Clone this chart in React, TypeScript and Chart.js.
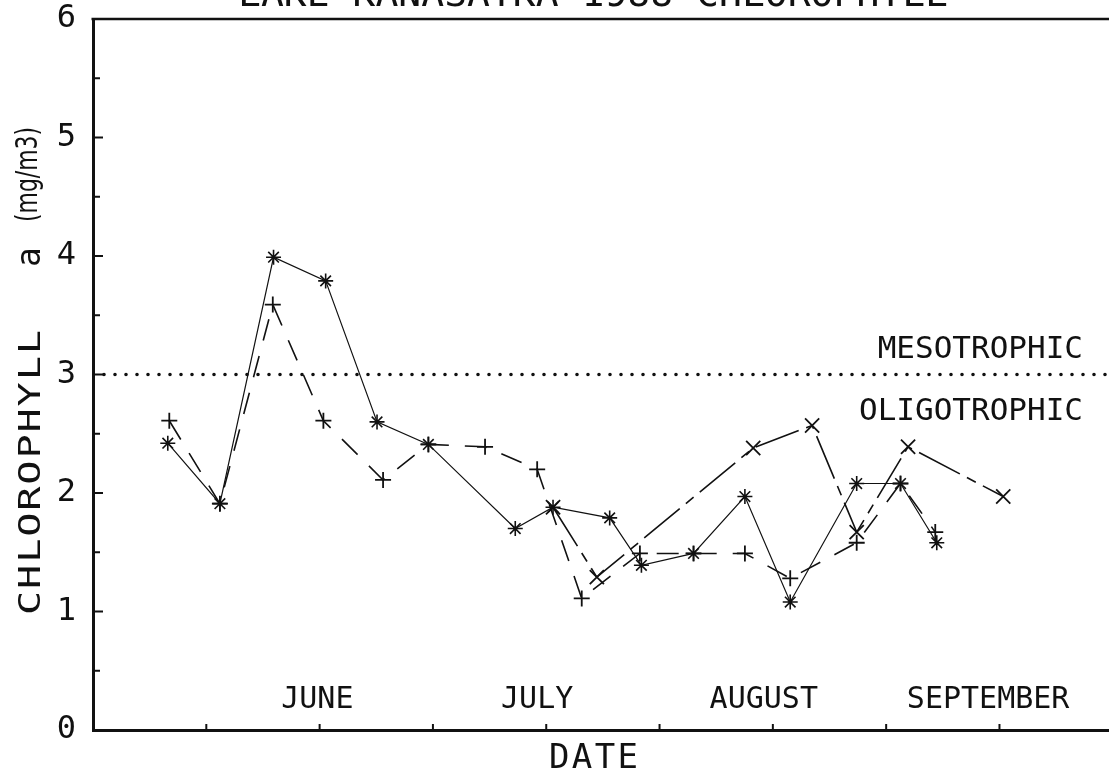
import React, { useEffect, useRef } from 'react';
import { Chart, registerables } from 'chart.js';

Chart.register(...registerables);

// ---------------- data ----------------
const titleText = 'LAKE KANASATKA 1988 CHLOROPHYLL';
const yAxisTitle = ['CHLOROPHYLL', 'a', '(mg/m3)'];
const xAxisTitle = 'DATE';

const months = ['JUNE', 'JULY', 'AUGUST', 'SEPTEMBER'];
const monthLabelDays = [29.7, 58.8, 88.8, 118.5];
const xTickDays = [15, 30, 45, 60, 75, 90, 105, 120];
const yTickValues = [0, 0.5, 1, 1.5, 2, 2.5, 3, 3.5, 4, 4.5, 5, 5.5, 6];

const thresholdValue = 3;
const zoneLabels = ['MESOTROPHIC', 'OLIGOTROPHIC'];

// series 1: solid line, asterisk markers
const solidDays = [9.9, 16.8, 23.9, 30.8, 37.6, 44.4, 55.9, 60.9, 68.4, 72.6, 79.5, 86.3, 92.3, 101.1, 106.9, 111.7];
const solidValues = [2.42, 1.91, 3.99, 3.79, 2.6, 2.41, 1.7, 1.88, 1.79, 1.39, 1.49, 1.97, 1.08, 2.08, 2.08, 1.58];

// series 2: long dashes, plus markers
const plusDays = [10.1, 16.8, 23.8, 30.5, 38.4, 44.4, 51.9, 58.8, 64.7, 72.4, 79.5, 86.3, 92.3, 101.1, 106.9, 111.5];
const plusValues = [2.61, 1.91, 3.59, 2.61, 2.11, 2.41, 2.39, 2.2, 1.11, 1.49, 1.49, 1.49, 1.28, 1.58, 2.08, 1.67];

// series 3: dash-dot, x markers
const crossDays = [60.9, 66.7, 87.4, 95.2, 101.1, 107.9, 120.5];
const crossValues = [1.88, 1.29, 2.38, 2.57, 1.67, 2.39, 1.97];

const X_MIN = 0;
const X_MAX = 134.5;
const Y_MIN = 0;
const Y_MAX = 6;

// ---------------- styling helpers ----------------
const MONO = '"DejaVu Sans Mono", monospace';
const SANS = '"DejaVu Sans", sans-serif';
const INK = '#111';

function toPoints(days: number[], vals: number[]) {
  return days.map((d, i) => ({ x: d, y: vals[i] }));
}

function drawSpaced(ctx: CanvasRenderingContext2D, text: string, x0: number, y: number, width: number) {
  ctx.textAlign = 'left';
  const w = ctx.measureText(text).width;
  if (width <= w || text.length < 2) {
    ctx.fillText(text, x0, y, width);
    return;
  }
  const extra = (width - w) / (text.length - 1);
  let x = x0;
  for (const ch of text) {
    ctx.fillText(ch, x, y);
    x += ctx.measureText(ch).width + extra;
  }
}

function zeroPadding(s: any) {
  s.paddingTop = 0;
  s.paddingBottom = 0;
  s.paddingLeft = 0;
  s.paddingRight = 0;
}

const decorPlugin = {
  id: 'decor',
  afterDraw(chart: any) {
    const { ctx, chartArea } = chart;
    const xs = chart.scales.x;
    const ys = chart.scales.y;
    ctx.save();

    // top frame line
    ctx.strokeStyle = INK;
    ctx.lineWidth = 2.5;
    ctx.beginPath();
    ctx.moveTo(chartArea.left - 1.5, chartArea.top);
    ctx.lineTo(chartArea.right, chartArea.top);
    ctx.stroke();

    // inward ticks on y axis
    ctx.lineWidth = 2;
    yTickValues.forEach((v) => {
      const py = ys.getPixelForValue(v);
      const len = Number.isInteger(v) ? 10 : 7;
      ctx.beginPath();
      ctx.moveTo(chartArea.left, py);
      ctx.lineTo(chartArea.left + len, py);
      ctx.stroke();
    });
    // inward ticks on x axis
    xTickDays.forEach((d) => {
      const px = xs.getPixelForValue(d);
      ctx.beginPath();
      ctx.moveTo(px, chartArea.bottom);
      ctx.lineTo(px, chartArea.bottom - 6);
      ctx.stroke();
    });

    ctx.fillStyle = INK;
    ctx.textBaseline = 'alphabetic';

    // title (mostly cut off at the top of the page)
    ctx.font = `38px ${MONO}`;
    drawSpaced(ctx, titleText, 238, 6, 710);

    // month labels inside plot
    ctx.font = `30px ${MONO}`;
    ctx.textAlign = 'center';
    months.forEach((m, i) => {
      ctx.fillText(m, xs.getPixelForValue(monthLabelDays[i]), chartArea.bottom - 22);
    });

    // trophic zone labels
    ctx.font = `31px ${MONO}`;
    ctx.textAlign = 'right';
    const ty = ys.getPixelForValue(thresholdValue);
    const rx = chartArea.right - 26;
    ctx.fillText(zoneLabels[0], rx, ty - 17);
    ctx.fillText(zoneLabels[1], rx, ty + 45);

    // x axis title
    ctx.font = `34px ${MONO}`;
    drawSpaced(ctx, xAxisTitle, 549, 768, 89);

    // y axis title (rotated, stretched along the text like the plotter font)
    ctx.save();
    ctx.translate(40, 615);
    ctx.rotate(-Math.PI / 2);
    ctx.scale(1.3, 1);
    ctx.font = `31px ${MONO}`;
    drawSpaced(ctx, yAxisTitle[0], 0, 0, 285 / 1.3);
    ctx.restore();

    ctx.save();
    ctx.translate(40, 267);
    ctx.rotate(-Math.PI / 2);
    ctx.font = `33px ${MONO}`;
    ctx.textAlign = 'left';
    ctx.fillText(yAxisTitle[1], 0, 0);
    ctx.restore();

    ctx.save();
    ctx.translate(37, 222);
    ctx.rotate(-Math.PI / 2);
    ctx.font = `31px ${SANS}`;
    drawSpaced(ctx, yAxisTitle[2], 0, 0, 95);
    ctx.restore();

    ctx.restore();
  },
};

export default function App() {
  const ref = useRef<HTMLCanvasElement>(null);

  useEffect(() => {
    const canvas = ref.current;
    if (!canvas) return;
    const chart = new Chart(canvas, {
      type: 'line',
      data: {
        datasets: [
          {
            label: 'threshold',
            data: [
              { x: X_MIN, y: thresholdValue },
              { x: X_MAX, y: thresholdValue },
            ],
            borderColor: INK,
            borderWidth: 3.6,
            borderDash: [0, 11],
            borderCapStyle: 'round',
            pointRadius: 0,
            tension: 0,
          },
          {
            label: 'solid',
            data: toPoints(solidDays, solidValues),
            borderColor: INK,
            borderWidth: 1.2,
            pointStyle: 'star',
            pointRadius: 7.5,
            pointBorderWidth: 1.6,
            pointBorderColor: INK,
            pointBackgroundColor: INK,
            tension: 0,
          },
          {
            label: 'dashed',
            data: toPoints(plusDays, plusValues),
            borderColor: INK,
            borderWidth: 1.6,
            borderDash: [22, 16],
            pointStyle: 'cross',
            pointRadius: 8,
            pointBorderWidth: 1.8,
            pointBorderColor: INK,
            pointBackgroundColor: INK,
            tension: 0,
          },
          {
            label: 'dashdot',
            data: toPoints(crossDays, crossValues),
            borderColor: INK,
            borderWidth: 1.6,
            borderDash: [46, 8, 10, 8],
            pointStyle: 'crossRot',
            pointRadius: 10,
            pointBorderWidth: 1.8,
            pointBorderColor: INK,
            pointBackgroundColor: INK,
            tension: 0,
          },
        ],
      } as any,
      options: {
        animation: false,
        responsive: false,
        layout: { autoPadding: false, padding: { top: 19, right: 0, left: 0, bottom: 0 } },
        plugins: {
          legend: { display: false },
          tooltip: { enabled: false },
          title: { display: false },
        },
        scales: {
          x: {
            type: 'linear',
            min: X_MIN,
            max: X_MAX,
            ticks: { display: false },
            grid: { display: false, drawTicks: false },
            border: { display: true, color: INK, width: 3 },
            afterFit: (s: any) => {
              s.height = 44;
              zeroPadding(s);
            },
          },
          y: {
            type: 'linear',
            min: Y_MIN,
            max: Y_MAX,
            ticks: {
              stepSize: 1,
              color: INK,
              padding: 17,
              font: { family: MONO, size: 32 },
              callback: (v: any) => String(v),
            },
            grid: { display: false, drawTicks: false },
            border: { display: true, color: INK, width: 3 },
            afterFit: (s: any) => {
              s.width = 93;
              zeroPadding(s);
            },
          },
        },
      } as any,
      plugins: [decorPlugin],
    });
    return () => chart.destroy();
  }, []);

  return (
    <div style={{ position: 'absolute', left: 0, top: 0, width: 1109, height: 774, background: '#fff' }}>
      <canvas ref={ref} width={1109} height={774} style={{ width: 1109, height: 774, display: 'block' }} />
    </div>
  );
}
